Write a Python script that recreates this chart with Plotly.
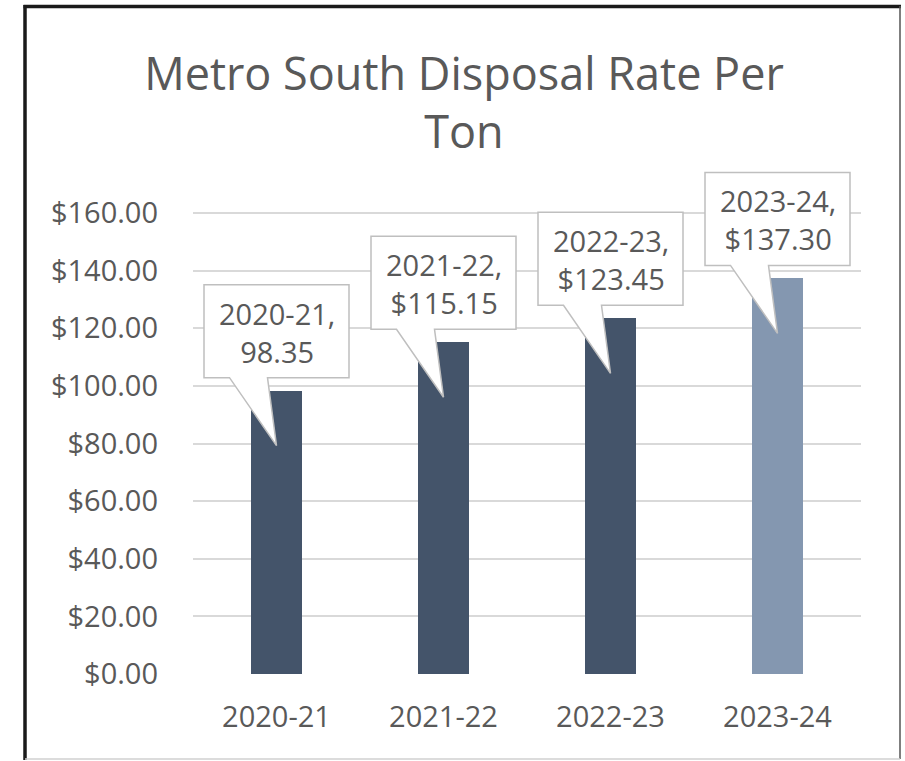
import plotly.graph_objects as go

categories = ["2020-21", "2021-22", "2022-23", "2023-24"]
rates = [98.35, 115.15, 123.45, 137.30]
label_values = ["98.35", "$115.15", "$123.45", "$137.30"]
bar_colors = ["#44546A", "#44546A", "#44546A", "#8497B0"]
tick_vals = [0, 20, 40, 60, 80, 100, 120, 140, 160]
tick_text = ["$%.2f" % v for v in tick_vals]

W, H = 905, 761
# plot area in page pixels: x 193..861, y 165..674
L, R, T, B = 193, W - 861, 165, H - 674
pw, ph = W - L - R, H - T - B
px_per_unit = 461 / 160
y_max = 160 + 48 / px_per_unit

def px_x(p):  # page px -> paper x
    return (p - L) / pw

def px_y(p):  # page px -> paper y
    return (H - B - p) / ph

xs = list(range(len(categories)))
fig = go.Figure()
fig.add_trace(go.Bar(x=xs, y=rates, marker=dict(color=bar_colors, line=dict(width=0)),
                     width=0.31, hoverinfo="skip"))

u = 1 / px_per_unit  # data units per pixel
cat_px = pw / len(categories)
shapes = []
annotations = []
for i, (c, v, lab) in enumerate(zip(categories, rates, label_values)):
    bw = 145 / cat_px
    bottom = v + 13 * u
    top = bottom + 93 * u
    x0, x1 = i - bw / 2, i + bw / 2
    wl, wr = i - 47 / cat_px, i - 9 / cat_px
    tip = v - 55 * u
    path = (f"M {x0},{top} L {x1},{top} L {x1},{bottom} L {wr},{bottom} "
            f"L {i},{tip} L {wl},{bottom} L {x0},{bottom} Z")
    shapes.append(dict(type="path", path=path, xref="x", yref="y",
                       fillcolor="white", line=dict(color="#BFBFBF", width=1.5), layer="above"))
    annotations.append(dict(x=i, y=(top + bottom) / 2 - 1 * u, xref="x", yref="y",
                            text=f"{c},<br>{lab}", showarrow=False,
                            font=dict(family="Open Sans", size=29, color="#595959")))

# outer frame
shapes += [
    dict(type="line", xref="paper", yref="paper", x0=px_x(25), x1=px_x(25), y0=px_y(5), y1=px_y(760),
         line=dict(color="#1a1a1a", width=3.5)),
    dict(type="line", xref="paper", yref="paper", x0=px_x(23.5), x1=px_x(901), y0=px_y(6.5), y1=px_y(6.5),
         line=dict(color="#1a1a1a", width=3.5)),
    dict(type="line", xref="paper", yref="paper", x0=px_x(900), x1=px_x(900), y0=px_y(6), y1=px_y(759),
         line=dict(color="#555555", width=1.5)),
    dict(type="line", xref="paper", yref="paper", x0=px_x(25), x1=px_x(900), y0=px_y(759), y1=px_y(759),
         line=dict(color="#D0D0D0", width=1.5)),
]

fig.update_layout(
    width=W, height=H,
    margin=dict(l=L, r=R, t=T, b=B),
    paper_bgcolor="white", plot_bgcolor="white",
    showlegend=False,
    title=dict(text="Metro South Disposal Rate Per<br>Ton", x=464 / W, xanchor="center",
               xref="container", y=1 - 89.5 / H, yanchor="middle", yref="container",
               font=dict(family="Open Sans", size=45, color="#595959")),
    font=dict(family="Open Sans", color="#595959"),
    shapes=shapes, annotations=annotations,
    xaxis=dict(tickvals=xs, ticktext=categories, range=[-0.5, len(categories) - 0.5],
               showgrid=False, zeroline=False, showline=False, ticks="",
               tickfont=dict(size=29, color="#595959"), ticklabelstandoff=23),
    yaxis=dict(range=[0, y_max], tickvals=tick_vals, ticktext=tick_text,
               showgrid=True, gridcolor="#D9D9D9", gridwidth=1.5, zeroline=False, showline=False,
               ticks="", tickfont=dict(size=29, color="#595959"), ticklabelstandoff=34),
    bargap=0,
)

fig.write_html("out.html", config={"displayModeBar": False},
               post_script="document.body.style.margin='0';document.body.style.overflow='hidden';")
